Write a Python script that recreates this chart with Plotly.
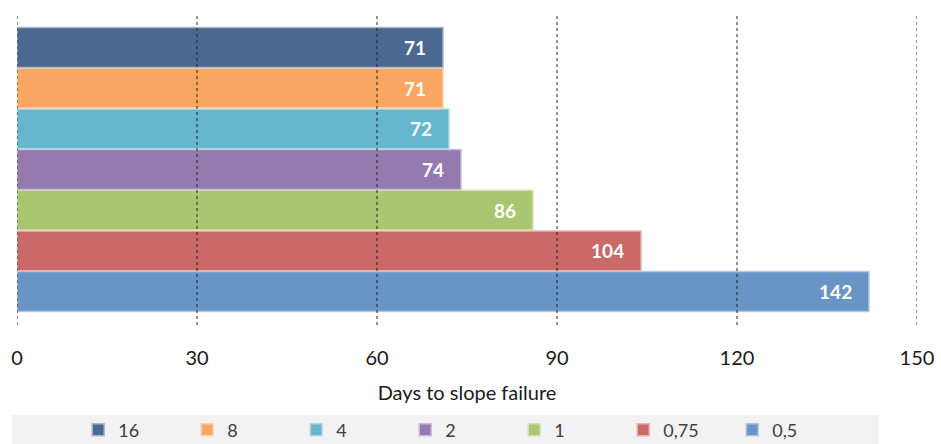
import plotly.graph_objects as go

# Days to slope failure for each series (top to bottom as drawn)
series_names = ["16", "8", "4", "2", "1", "0,75", "0,5"]
days = [71, 71, 72, 74, 86, 104, 142]
fill_colors = ["#4b6890", "#f8a662", "#66b6cd", "#947aae", "#abc670", "#ca6967", "#6894c6"]
edge_colors = ["#a9b6c8", "#fbd2b0", "#b2dae6", "#c9bcd6", "#d5e2b7", "#e4b4b3", "#b3c9e2"]
category = ["Days"]
tick_values = [0, 30, 60, 90, 120, 150]

FONT = "Lato, 'Open Sans', sans-serif"

fig = go.Figure()

# Plotly stacks grouped horizontal bars bottom-up, so add the last series first
for name, val, fc, ec in reversed(list(zip(series_names, days, fill_colors, edge_colors))):
    fig.add_trace(go.Bar(
        y=category,
        x=[val],
        name=name,
        orientation="h",
        marker=dict(color=fc, line=dict(color=ec, width=1.5)),
        text=[val],
        texttemplate="%{x}\u00a0\u00a0\u00a0",
        textposition="inside",
        insidetextanchor="end",
        textfont=dict(family=FONT, size=19, color="white", weight="bold"),
        cliponaxis=False,
    ))

# dotted vertical gridlines drawn over the bars
grid_shapes = [
    dict(type="line", xref="x", yref="paper", x0=v, x1=v, y0=0, y1=1,
         line=dict(color="#222222", width=1, dash="dot"), layer="above")
    for v in tick_values
]

legend_band = dict(
    type="rect", xref="paper", yref="paper",
    x0=-0.0055, x1=0.958, y0=-0.383, y1=-0.289,
    fillcolor="#f2f2f2", line=dict(width=0), layer="below",
)

fig.update_layout(
    width=941,
    height=444,
    margin=dict(l=17, r=24, t=14, b=119, autoexpand=False),
    paper_bgcolor="white",
    plot_bgcolor="white",
    barmode="group",
    bargap=0.085,
    bargroupgap=0.02,
    font=dict(family=FONT, color="#1a1a1a"),
    showlegend=True,
    legend=dict(
        orientation="h",
        traceorder="reversed",
        x=0.068, xanchor="left",
        y=-0.338, yanchor="middle",
        entrywidth=64,
        entrywidthmode="pixels",
        font=dict(family=FONT, size=18, color="#404040"),
        bgcolor="rgba(0,0,0,0)",
        itemwidth=30,
    ),
    shapes=grid_shapes + [legend_band],
)

fig.update_xaxes(
    range=[0, 150],
    tickvals=tick_values,
    showgrid=False,
    zeroline=False,
    showline=False,
    ticks="",
    automargin=False,
    ticklabelstandoff=19,
    tickfont=dict(family=FONT, size=20, color="#1a1a1a"),
    title=dict(text="Days to slope failure", font=dict(family=FONT, size=20, color="#1a1a1a"), standoff=17),
)
fig.update_yaxes(showticklabels=False, showgrid=False, zeroline=False, showline=False, automargin=False)

fig.write_html("out.html")
